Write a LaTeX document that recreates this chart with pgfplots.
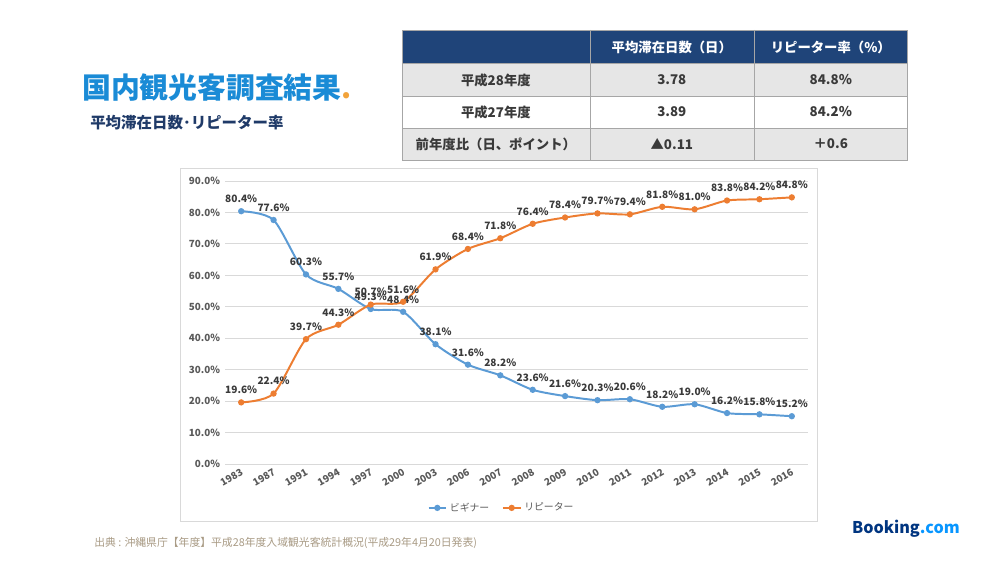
\documentclass[border=0pt]{standalone}
\usepackage{pgfplots}
\pgfplotsset{compat=1.18}
\usepackage{pgfplotstable}
\usepackage{fontspec}
\setmainfont{Noto Sans CJK JP}
\definecolor{cblue}{HTML}{5B9BD5}
\definecolor{corange}{HTML}{ED7D31}
\definecolor{titleblue}{HTML}{1A8BD6}
\definecolor{dotorange}{HTML}{F2A33A}
\definecolor{navy}{HTML}{1F3A68}
\definecolor{hdr}{HTML}{1F4479}
\definecolor{rowgray}{HTML}{E6E6E6}
\definecolor{tgrid}{HTML}{A6A6A6}
\definecolor{txt}{HTML}{3A3A3A}
\definecolor{axgray}{HTML}{595959}
\definecolor{gridc}{HTML}{D9D9D9}
\definecolor{src}{HTML}{A99B85}
\definecolor{bkdark}{HTML}{003580}
\definecolor{bklight}{HTML}{0896FF}

\pgfplotstableread{
x y
0 80.4
1 77.6
2 60.3
3 55.7
4 49.3
5 48.4
6 38.1
7 31.6
8 28.2
9 23.6
10 21.6
11 20.3
12 20.6
13 18.2
14 19.0
15 16.2
16 15.8
17 15.2
}\beginner
\pgfplotstableread{
x y
0 19.6
1 22.4
2 39.7
3 44.3
4 50.7
5 51.6
6 61.9
7 68.4
8 71.8
9 76.4
10 78.4
11 79.7
12 79.4
13 81.8
14 81.0
15 83.8
16 84.2
17 84.8
}\repeater

\begin{document}
\begin{tikzpicture}
\fill[white] (0,0) rectangle (25cm,-14.075cm);
\begin{scope}[x=0.025cm,y=-0.025cm]
% title
\node[anchor=west,text=titleblue,font=\fontsize{20.5}{24}\selectfont\bfseries,inner sep=0] at (82,88) {国内観光客調査結果\textcolor{dotorange}{.}};
\node[anchor=west,text=navy,font=\fontsize{11}{13}\selectfont\bfseries,inner sep=0] at (90,123) {平均滞在日数･リピーター率};
% table
\fill[hdr] (402,30) rectangle (908,63);
\fill[rowgray] (402,63) rectangle (908,96);
\fill[white] (402,96) rectangle (908,128);
\fill[rowgray] (402,128) rectangle (908,160);
\draw[tgrid,line width=0.5pt] (402,30) rectangle (908,160);
\draw[tgrid,line width=0.5pt] (402,63) -- (908,63) (402,96) -- (908,96) (402,128) -- (908,128);
\draw[tgrid,line width=0.5pt] (590,30) -- (590,160) (755,30) -- (755,160);
\begin{scope}[every node/.style={font=\fontsize{9.5}{11}\selectfont\bfseries,inner sep=0}]
\node[text=white] at (672,47) {平均滞在日数（日）};
\node[text=white] at (831,47) {リピーター率（\%）};
\node[text=txt] at (496,80) {平成28年度};
\node[text=txt] at (672,80) {3.78};
\node[text=txt] at (831,80) {84.8\%};
\node[text=txt] at (496,112) {平成27年度};
\node[text=txt] at (672,112) {3.89};
\node[text=txt] at (831,112) {84.2\%};
\node[text=txt] at (496,144) {前年度比（日、ポイント）};
\node[text=txt] at (672,144) {▲0.11};
\node[text=txt] at (831,144) {＋0.6};
\end{scope}
% chart frame
\draw[gridc,line width=0.6pt] (180,168) rectangle (818,522);
% source
\node[anchor=west,text=src,font=\fontsize{7.7}{9}\selectfont,inner sep=0] at (94,543) {出典 : 沖縄県庁【年度】平成28年度入域観光客統計概況(平成29年4月20日発表)};
% logo
\node[anchor=west,font=\fontsize{11.5}{13}\selectfont\bfseries,inner sep=0] at (852,529) {\textcolor{bkdark}{Booking}\textcolor{bklight}{.com}};
\end{scope}
\begin{axis}[
  at={(5.625cm,-11.6cm)}, anchor=south west,
  scale only axis, width=14.575cm, height=7.075cm,
  xmin=-0.5, xmax=17.5, ymin=0, ymax=90,
  clip=false,
  axis line style={draw=none},
  major tick length=0pt,
  ymajorgrids, grid style={gridc,line width=0.6pt},
  ytick={0,10,...,90},
  yticklabels={0.0\%,10.0\%,20.0\%,30.0\%,40.0\%,50.0\%,60.0\%,70.0\%,80.0\%,90.0\%},
  xtick={0,...,17},
  xticklabels={1983,1987,1991,1994,1997,2000,2003,2006,2007,2008,2009,2010,2011,2012,2013,2014,2015,2016},
  y tick label style={font=\fontsize{7}{8}\selectfont\bfseries,text=axgray},
  x tick label style={font=\fontsize{7}{8}\selectfont\bfseries,text=axgray,rotate=30,anchor=north east,inner sep=2pt},
  /pgf/number format/assume math mode=true,
  nodes near coords={\pgfmathprintnumber[fixed,fixed zerofill,precision=1]{\pgfplotspointmeta}\%},
  every node near coord/.style={font=\fontsize{7.2}{8}\selectfont\bfseries,text=txt,anchor=south,yshift=2pt},
  legend style={at={(axis description cs:0.475,-0.155)},anchor=center,draw=none,fill=none,
    font=\fontsize{7}{8}\selectfont,text=axgray,legend columns=2,
    /tikz/every even column/.append style={column sep=7pt},
    /tikz/every odd column/.append style={inner sep=0.5pt}},
  legend image code/.code={\draw[#1,mark repeat=2,mark phase=2] plot coordinates {(0cm,0cm) (0.22cm,0cm) (0.44cm,0cm)};},
]
\addplot[cblue,line width=1.4pt,smooth,tension=0.45,mark=*,mark size=1.5pt] table[x=x,y=y]{\beginner};
\addlegendentry{ビギナー}
\addplot[corange,line width=1.4pt,smooth,tension=0.45,mark=*,mark size=1.5pt] table[x=x,y=y]{\repeater};
\addlegendentry{リピーター}
\end{axis}
\end{tikzpicture}
\end{document}
